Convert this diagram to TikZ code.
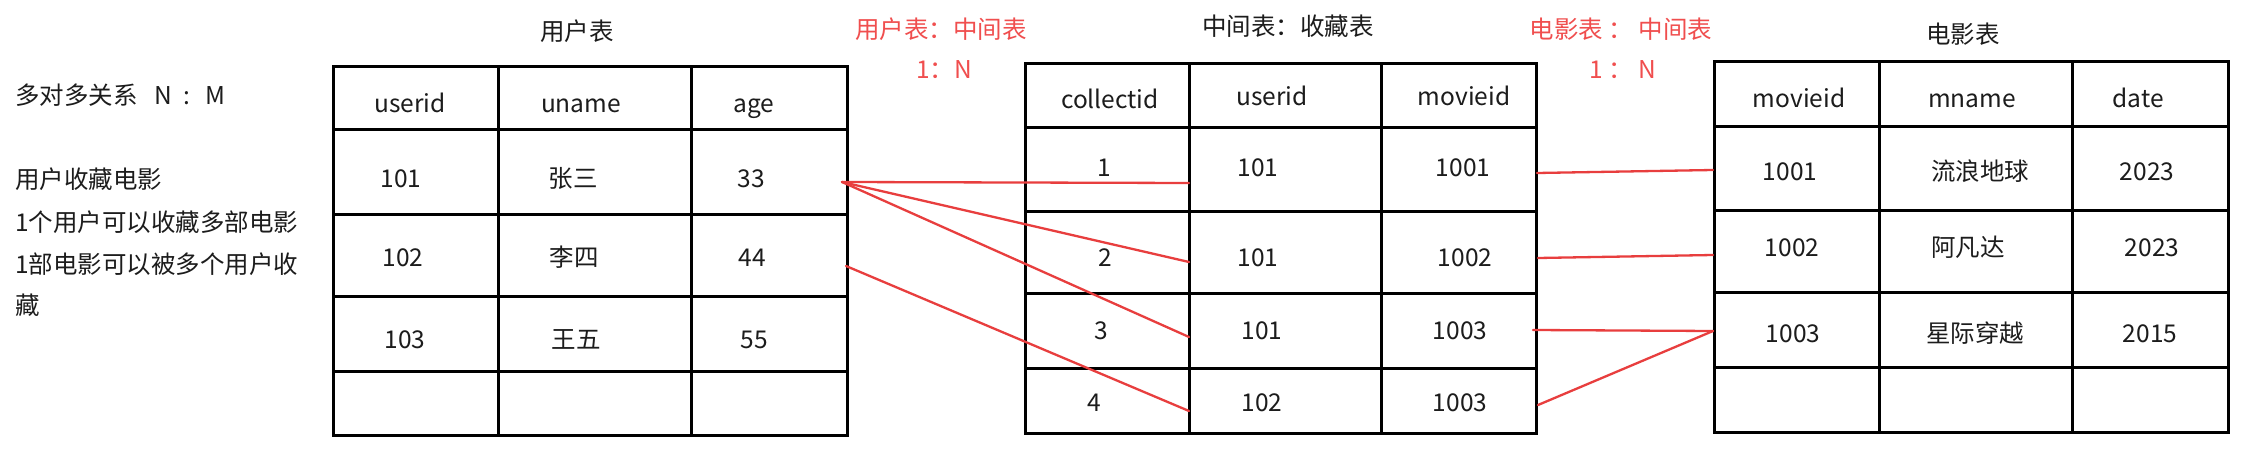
\documentclass[tikz,border=0pt]{standalone}
\usepackage{fontspec}
\setmainfont{Noto Sans CJK SC}
\definecolor{linered}{RGB}{232,62,62}
\definecolor{txtred}{RGB}{240,78,78}
\definecolor{ink}{RGB}{28,28,28}
\begin{document}
\begin{tikzpicture}[x=1pt,y=-1pt,
  grid/.style={draw=black,line width=3pt},
  cell/.style={font=\fontsize{24.5}{29}\selectfont,text=ink,inner sep=0pt,anchor=base},
  note/.style={font=\fontsize{24.5}{29}\selectfont,text=ink,inner sep=0pt,anchor=base west},
  redlabel/.style={font=\fontsize{24.5}{29}\selectfont,text=txtred,inner sep=0pt,anchor=base},
  rel/.style={draw=linered,line width=2.3pt,line cap=round}]
\useasboundingbox (0,0) rectangle (2266,462);
\fill[white] (0,0) rectangle (2266,462);

% ---------- left notes ----------
\node[note] (n1) at (15,105) {多对多关系\hspace{17pt}N\hspace{11pt}:\hspace{15pt}M};
\node[note] (n2) at (15,189) {用户收藏电影};
\node[note] (n3) at (15,232) {1个用户可以收藏多部电影};
\node[note] (n4) at (15,273) {1部电影可以被多个用户收};
\node[note] (n5) at (15,314) {藏};

% ---------- titles ----------
\node[cell] (t1) at (577,41) {用户表};
\node[cell] (t2) at (1288,36) {中间表：收藏表};
\node[cell] (t3) at (1963,44) {电影表};
\node[redlabel] (r1a) at (941,39) {用户表：中间表};
\node[redlabel] (r1b) at (944,79) {1：N};
\node[redlabel] (r2a) at (1621,39) {电影表 ： 中间表};
\node[redlabel] (r2b) at (1623,79) {1 ： N};

% ---------- user table ----------
\draw[grid] (333,67) rectangle (847,435);
\foreach \y in {130,215,296,371} \draw[grid] (333,\y) -- (847,\y);
\foreach \x in {498,691} \draw[grid] (\x,67) -- (\x,435);
\node[cell] (uh1) at (410,113) {userid};
\node[cell] (uh2) at (581,113) {uname};
\node[cell] (uh3) at (754,113) {age};
\node[cell] (u11) at (401,188) {101};
\node[cell] (u12) at (573,188) {张三};
\node[cell] (u13) at (751,188) {33};
\node[cell] (u21) at (403,266) {102};
\node[cell] (u22) at (574,266) {李四};
\node[cell] (u23) at (752,266) {44};
\node[cell] (u31) at (405,348) {103};
\node[cell] (u32) at (576,348) {王五};
\node[cell] (u33) at (754,348) {55};

% ---------- middle table ----------
\draw[grid] (1025,64) rectangle (1536,433);
\foreach \y in {128,212,293,368} \draw[grid] (1025,\y) -- (1536,\y);
\foreach \x in {1189,1381} \draw[grid] (\x,64) -- (\x,433);
\node[cell] (ch1) at (1110,109) {collectid};
\node[cell] (ch2) at (1272,106) {userid};
\node[cell] (ch3) at (1464,106) {movieid};
\node[cell] (c11) at (1104,177) {1};
\node[cell] (c12) at (1258,177) {101};
\node[cell] (c13) at (1463,177) {1001};
\node[cell] (c21) at (1105,266) {2};
\node[cell] (c22) at (1258,266) {101};
\node[cell] (c23) at (1465,266) {1002};
\node[cell] (c31) at (1101,339) {3};
\node[cell] (c32) at (1262,339) {101};
\node[cell] (c33) at (1460,339) {1003};
\node[cell] (c41) at (1094,411) {4};
\node[cell] (c42) at (1262,411) {102};
\node[cell] (c43) at (1460,411) {1003};

% ---------- movie table ----------
\draw[grid] (1714,62) rectangle (2228,432);
\foreach \y in {127,211,292,367} \draw[grid] (1714,\y) -- (2228,\y);
\foreach \x in {1879,2072} \draw[grid] (\x,62) -- (\x,432);
\node[cell] (mh1) at (1799,108) {movieid};
\node[cell] (mh2) at (1972,108) {mname};
\node[cell] (mh3) at (2138,108) {date};
\node[cell] (m11) at (1790,181) {1001};
\node[cell] (m12) at (1980,181) {流浪地球};
\node[cell] (m13) at (2147,181) {2023};
\node[cell] (m21) at (1792,257) {1002};
\node[cell] (m22) at (1968,257) {阿凡达};
\node[cell] (m23) at (2152,257) {2023};
\node[cell] (m31) at (1793,342) {1003};
\node[cell] (m32) at (1975,342) {星际穿越};
\node[cell] (m33) at (2150,342) {2015};

% ---------- connector end points ----------
\coordinate (pu1) at (842,182);
\coordinate (pu2) at (846,266);
\coordinate (pc1) at (1189,183);
\coordinate (pc2) at (1189,262);
\coordinate (pc3) at (1189,337);
\coordinate (pc4) at (1189,411);
\coordinate (pm1) at (1537,173);
\coordinate (pm2) at (1538,258);
\coordinate (pm3) at (1533,330);
\coordinate (pm4) at (1538,405);
\coordinate (pr1) at (1713,170);
\coordinate (pr2) at (1713,255);
\coordinate (pr3) at (1713,331);

% ---------- connectors ----------
\draw[rel] (pu1) -- (pc1);
\draw[rel] (pu1) -- (pc2);
\draw[rel] (pu1) -- (pc3);
\draw[rel] (pu2) -- (pc4);
\draw[rel] (pm1) -- (pr1);
\draw[rel] (pm2) -- (pr2);
\draw[rel] (pm3) -- (pr3);
\draw[rel] (pm4) -- (pr3);
\end{tikzpicture}
\end{document}
